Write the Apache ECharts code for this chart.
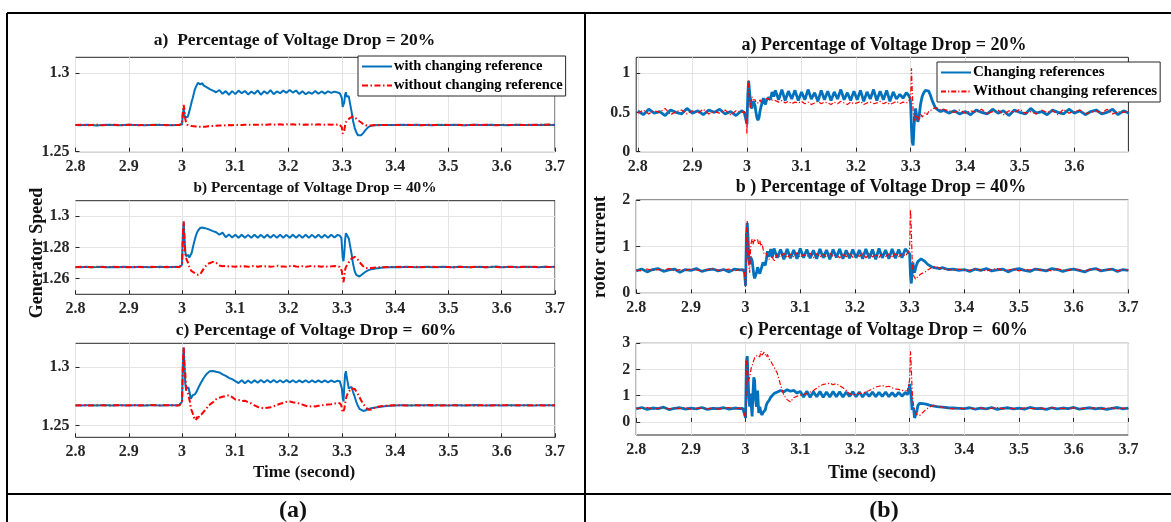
<!DOCTYPE html>
<html>
<head>
<meta charset="utf-8">
<script src="https://cdn.jsdelivr.net/npm/echarts@6/dist/echarts.min.js"></script>
<style>
  html, body { margin: 0; padding: 0; background: #fff; }
  #chart { width: 1171px; height: 522px; }
</style>
</head>
<body>
<div id="chart"></div>
<script>
// Sample instants (s): coarse in steady state, dense around the sag at 3.0 s and the recovery at 3.3 s
const time = [
  2.80, 2.81, 2.82, 2.83, 2.84, 2.85, 2.86, 2.87, 2.88, 2.89, 2.90, 2.91, 2.92, 2.93, 2.94, 2.95, 2.96, 2.97, 2.98, 2.99,
  2.995, 2.998, 3.000, 3.0015, 3.003, 3.0045, 3.006, 3.0075, 3.009, 3.0105, 3.012, 3.0135, 3.015, 3.0165, 3.018, 3.020, 3.022, 3.024, 3.026, 3.028, 3.030, 3.032, 3.034, 3.036, 3.038, 3.040, 3.043, 3.046, 3.049,
  3.052, 3.058, 3.064, 3.070, 3.076, 3.082, 3.088, 3.094, 3.100, 3.106, 3.112, 3.118, 3.124, 3.130, 3.136, 3.142, 3.148, 3.154, 3.160, 3.166, 3.172, 3.178, 3.184, 3.190, 3.196, 3.202, 3.208, 3.214, 3.220, 3.226, 3.232, 3.238, 3.244, 3.250, 3.256, 3.262, 3.268, 3.274, 3.280, 3.286, 3.292,
  3.296, 3.299, 3.300, 3.3015, 3.303, 3.3045, 3.306, 3.3075, 3.309, 3.311, 3.313, 3.315, 3.318, 3.321, 3.324, 3.327, 3.330, 3.333, 3.336, 3.340, 3.345, 3.350, 3.355, 3.360, 3.370, 3.380, 3.390,
  3.40, 3.41, 3.42, 3.43, 3.44, 3.45, 3.46, 3.47, 3.48, 3.49, 3.50, 3.51, 3.52, 3.53, 3.54, 3.55, 3.56, 3.57, 3.58, 3.59, 3.60, 3.61, 3.62, 3.63, 3.64, 3.65, 3.66, 3.67, 3.68, 3.69, 3.70
];

// ---- Generator speed (pu) ----
const speed20With = [
  1.267, 1.2668, 1.2671, 1.2669, 1.2667, 1.267, 1.2672, 1.2669, 1.2668, 1.267, 1.2671, 1.2669, 1.267, 1.2668, 1.267, 1.2671, 1.2669, 1.267, 1.2668, 1.267,
  1.267, 1.2671, 1.2675, 1.274, 1.277, 1.2735, 1.2715, 1.2712, 1.2718, 1.2722, 1.2735, 1.2755, 1.2775, 1.2795, 1.2818, 1.284, 1.2868, 1.2895, 1.2912, 1.2925, 1.2938, 1.2932, 1.2928, 1.2938, 1.2935, 1.2922, 1.2915, 1.291, 1.2902,
  1.2898, 1.2888, 1.2878, 1.2892, 1.2868, 1.2885, 1.2862, 1.2885, 1.2866, 1.2888, 1.2872, 1.2886, 1.2864, 1.2882, 1.2868, 1.289, 1.2862, 1.2884, 1.2869, 1.2891, 1.2866, 1.2883, 1.2872, 1.2888, 1.2874, 1.2892, 1.2876, 1.2889, 1.2866, 1.2884, 1.2865, 1.2879, 1.2868, 1.2886, 1.2868, 1.2883, 1.2869, 1.2884, 1.2874, 1.2882, 1.2876,
  1.2872, 1.2868, 1.284, 1.2785, 1.278, 1.2815, 1.2862, 1.2878, 1.285, 1.2838, 1.2852, 1.2812, 1.2758, 1.2695, 1.2652, 1.2624, 1.2605, 1.2598, 1.2604, 1.2618, 1.264, 1.2658, 1.2664, 1.2668, 1.2669, 1.267, 1.2669,
  1.267, 1.2671, 1.2669, 1.267, 1.2672, 1.2669, 1.267, 1.2668, 1.2671, 1.267, 1.2669, 1.2671, 1.267, 1.2668, 1.267, 1.2672, 1.2669, 1.267, 1.2671, 1.2669, 1.267, 1.2668, 1.267, 1.2671, 1.267, 1.2669, 1.2671, 1.267, 1.2672, 1.267, 1.2669
];
const speed20Without = [
  1.2669, 1.2671, 1.2668, 1.267, 1.2672, 1.2668, 1.267, 1.2671, 1.2669, 1.2668, 1.2671, 1.267, 1.2668, 1.2671, 1.2669, 1.267, 1.2672, 1.2668, 1.267, 1.2669,
  1.267, 1.2671, 1.268, 1.2755, 1.2798, 1.2765, 1.271, 1.2685, 1.2672, 1.2668, 1.2671, 1.2667, 1.2664, 1.2666, 1.2663, 1.2665, 1.2662, 1.2663, 1.266, 1.2661, 1.2659, 1.266, 1.2658, 1.2659, 1.2658, 1.266, 1.2659, 1.2661, 1.2662,
  1.2662, 1.2664, 1.2665, 1.2667, 1.2666, 1.2668, 1.2669, 1.2668, 1.267, 1.2671, 1.2669, 1.2671, 1.2672, 1.267, 1.2672, 1.2671, 1.2673, 1.2671, 1.2672, 1.2674, 1.2672, 1.2673, 1.2675, 1.2672, 1.2674, 1.2673, 1.2675, 1.2672, 1.2674, 1.2672, 1.2673, 1.2671, 1.2673, 1.2672, 1.2674, 1.2671, 1.2672, 1.2673, 1.2671, 1.2673, 1.2672,
  1.2671, 1.2668, 1.2655, 1.2615, 1.2608, 1.2632, 1.2668, 1.2688, 1.2695, 1.2701, 1.2706, 1.2714, 1.2722, 1.2724, 1.2718, 1.271, 1.2702, 1.2694, 1.2685, 1.2676, 1.2668, 1.2666, 1.2667, 1.2669, 1.2668, 1.267, 1.2669,
  1.2669, 1.267, 1.2671, 1.2669, 1.267, 1.2668, 1.2671, 1.267, 1.2669, 1.2672, 1.267, 1.2669, 1.2671, 1.2668, 1.267, 1.2671, 1.2669, 1.2672, 1.267, 1.2668, 1.2671, 1.267, 1.2669, 1.2672, 1.267, 1.2671, 1.2669, 1.2672, 1.2671, 1.2673, 1.2671
];
const speed40With = [
  1.2675, 1.2673, 1.2676, 1.2674, 1.2675, 1.2677, 1.2674, 1.2675, 1.2673, 1.2676, 1.2675, 1.2674, 1.2676, 1.2675, 1.2673, 1.2675, 1.2676, 1.2674, 1.2675, 1.2676,
  1.2675, 1.2676, 1.269, 1.288, 1.2962, 1.286, 1.2775, 1.2745, 1.2735, 1.2742, 1.2752, 1.2735, 1.2728, 1.2738, 1.2765, 1.2795, 1.2825, 1.2852, 1.2875, 1.2895, 1.2908, 1.2918, 1.2925, 1.2932, 1.2928, 1.2932, 1.2924, 1.293, 1.2918,
  1.2915, 1.2905, 1.2898, 1.2882, 1.2895, 1.2866, 1.2884, 1.2864, 1.2882, 1.2862, 1.2882, 1.2862, 1.2881, 1.2862, 1.2882, 1.2863, 1.2881, 1.2862, 1.2882, 1.2863, 1.2881, 1.2862, 1.2882, 1.2863, 1.2881, 1.2862, 1.2882, 1.2863, 1.2881, 1.2862, 1.2882, 1.2863, 1.2881, 1.2862, 1.2882, 1.2863, 1.2881, 1.2862, 1.2882, 1.2864, 1.2881,
  1.2876, 1.2862, 1.2815, 1.2735, 1.2712, 1.2765, 1.2845, 1.2892, 1.2895, 1.2882, 1.2858, 1.2818, 1.2762, 1.2695, 1.2648, 1.2625, 1.2617, 1.2614, 1.2621, 1.2633, 1.2646, 1.2655, 1.266, 1.2664, 1.2669, 1.2673, 1.2674,
  1.2675, 1.2674, 1.2676, 1.2675, 1.2673, 1.2675, 1.2676, 1.2674, 1.2675, 1.2677, 1.2675, 1.2674, 1.2676, 1.2675, 1.2673, 1.2675, 1.2676, 1.2674, 1.2675, 1.2678, 1.2674, 1.2675, 1.2676, 1.2674, 1.2675, 1.2677, 1.2675, 1.2674, 1.2676, 1.2675, 1.2676
];
const speed40Without = [
  1.2674, 1.2676, 1.2675, 1.2673, 1.2676, 1.2675, 1.2674, 1.2676, 1.2675, 1.2674, 1.2673, 1.2676, 1.2675, 1.2674, 1.2676, 1.2675, 1.2673, 1.2676, 1.2674, 1.2675,
  1.2675, 1.2676, 1.2692, 1.2885, 1.2968, 1.2855, 1.2768, 1.2735, 1.2718, 1.2712, 1.2698, 1.2678, 1.2662, 1.2655, 1.2648, 1.2644, 1.264, 1.2636, 1.263, 1.2628, 1.2625, 1.2623, 1.2628, 1.2638, 1.265, 1.2662, 1.2676, 1.2688, 1.2696,
  1.2702, 1.2708, 1.2702, 1.2685, 1.268, 1.2682, 1.2678, 1.2679, 1.2676, 1.2681, 1.2677, 1.268, 1.2676, 1.2679, 1.2682, 1.2677, 1.268, 1.2678, 1.2681, 1.2677, 1.2679, 1.2683, 1.2678, 1.2679, 1.2676, 1.268, 1.2683, 1.2678, 1.2677, 1.268, 1.2676, 1.2679, 1.2682, 1.2678, 1.268, 1.2677, 1.2681, 1.2676, 1.2679, 1.2682, 1.2677,
  1.2676, 1.2672, 1.2648, 1.2595, 1.2578, 1.2612, 1.2655, 1.2675, 1.2682, 1.2692, 1.2705, 1.2716, 1.2728, 1.2736, 1.274, 1.2735, 1.2722, 1.2708, 1.2694, 1.268, 1.2668, 1.2666, 1.2668, 1.267, 1.2673, 1.2674, 1.2675,
  1.2675, 1.2676, 1.2674, 1.2675, 1.2676, 1.2673, 1.2675, 1.2677, 1.2674, 1.2676, 1.2675, 1.2673, 1.2676, 1.2675, 1.2674, 1.2676, 1.2675, 1.2674, 1.2677, 1.2675, 1.2673, 1.2676, 1.2675, 1.2674, 1.2677, 1.2675, 1.2676, 1.2674, 1.2676, 1.2675, 1.2676
];
const speed60With = [
  1.2672, 1.2671, 1.2673, 1.2672, 1.267, 1.2673, 1.2672, 1.2671, 1.2673, 1.2672, 1.2671, 1.2673, 1.2672, 1.267, 1.2672, 1.2673, 1.2671, 1.2672, 1.2673, 1.2672,
  1.2672, 1.2674, 1.2705, 1.302, 1.3164, 1.302, 1.2862, 1.2815, 1.2822, 1.2808, 1.2825, 1.281, 1.2765, 1.2728, 1.2735, 1.2758, 1.2748, 1.2765, 1.2778, 1.2795, 1.2815, 1.2835, 1.2852, 1.2868, 1.2885, 1.29, 1.292, 1.2938, 1.2952,
  1.2962, 1.2965, 1.2958, 1.2952, 1.2935, 1.2922, 1.2905, 1.2895, 1.2878, 1.2862, 1.2885, 1.286, 1.2884, 1.2862, 1.2886, 1.2864, 1.2888, 1.2866, 1.2887, 1.2866, 1.2888, 1.2866, 1.2886, 1.2866, 1.2887, 1.2867, 1.2886, 1.2866, 1.2885, 1.2867, 1.2886, 1.2866, 1.2885, 1.2867, 1.2885, 1.2868, 1.2885, 1.2868, 1.2884, 1.2869, 1.2882,
  1.2878, 1.2865, 1.2815, 1.2735, 1.2705, 1.2832, 1.2935, 1.2962, 1.2915, 1.2865, 1.2815, 1.2818, 1.283, 1.2785, 1.2745, 1.2702, 1.2668, 1.2642, 1.2628, 1.2624, 1.263, 1.2642, 1.2648, 1.2652, 1.2658, 1.2664, 1.2669,
  1.2671, 1.2672, 1.2673, 1.2671, 1.2672, 1.2673, 1.2672, 1.267, 1.2673, 1.2672, 1.2671, 1.2672, 1.2673, 1.2671, 1.2672, 1.2674, 1.2672, 1.2671, 1.2673, 1.2672, 1.2671, 1.2673, 1.2672, 1.267, 1.2672, 1.2673, 1.2671, 1.2672, 1.2673, 1.2672, 1.2671
];
const speed60Without = [
  1.2671, 1.2673, 1.2672, 1.2671, 1.2673, 1.2672, 1.267, 1.2672, 1.2673, 1.2671, 1.2672, 1.2673, 1.2671, 1.2672, 1.2674, 1.2672, 1.2671, 1.2673, 1.2672, 1.2671,
  1.2672, 1.2674, 1.2708, 1.3025, 1.3164, 1.3, 1.2948, 1.2805, 1.2812, 1.2795, 1.2765, 1.2725, 1.2698, 1.2645, 1.2662, 1.2605, 1.2572, 1.256, 1.2545, 1.2575, 1.2552, 1.2582, 1.2565, 1.2592, 1.2598, 1.2615, 1.2628, 1.2645, 1.2668,
  1.2685, 1.2698, 1.2725, 1.2736, 1.2745, 1.2752, 1.2758, 1.2742, 1.2722, 1.2718, 1.2708, 1.2712, 1.2698, 1.2688, 1.2672, 1.2658, 1.2652, 1.2646, 1.2652, 1.2656, 1.2664, 1.2676, 1.2685, 1.2692, 1.2702, 1.2705, 1.2698, 1.2694, 1.2688, 1.2678, 1.2668, 1.2662, 1.2665, 1.2662, 1.2668, 1.2672, 1.2675, 1.2679, 1.2682, 1.2688, 1.2692,
  1.269, 1.2672, 1.2645, 1.2612, 1.2605, 1.264, 1.2685, 1.2725, 1.2752, 1.2772, 1.279, 1.2805, 1.2815, 1.2818, 1.2812, 1.2795, 1.2768, 1.2742, 1.2715, 1.2685, 1.2655, 1.2634, 1.2636, 1.2648, 1.2662, 1.2669, 1.2671,
  1.2672, 1.2673, 1.2671, 1.2672, 1.2673, 1.2671, 1.2672, 1.2674, 1.2672, 1.2671, 1.2673, 1.2672, 1.2671, 1.2673, 1.2672, 1.267, 1.2672, 1.2673, 1.2671, 1.2672, 1.2674, 1.2672, 1.2671, 1.2673, 1.2672, 1.2671, 1.2673, 1.2672, 1.2671, 1.2672, 1.2673
];

// ---- Rotor current (pu) ----
const current20With = [
  0.52, 0.47, 0.54, 0.49, 0.51, 0.46, 0.53, 0.5, 0.48, 0.55, 0.49, 0.52, 0.47, 0.53, 0.5, 0.54, 0.48, 0.51, 0.46, 0.52,
  0.5, 0.48, 0.35, 0.72, 0.9, 0.78, 0.66, 0.58, 0.55, 0.6, 0.64, 0.62, 0.58, 0.5, 0.44, 0.4, 0.43, 0.52, 0.58, 0.63, 0.68, 0.63, 0.6, 0.66, 0.64, 0.69, 0.66, 0.76, 0.7,
  0.78, 0.66, 0.79, 0.65, 0.77, 0.67, 0.78, 0.65, 0.76, 0.66, 0.79, 0.67, 0.75, 0.64, 0.78, 0.66, 0.77, 0.65, 0.76, 0.67, 0.79, 0.66, 0.75, 0.65, 0.77, 0.66, 0.78, 0.64, 0.76, 0.67, 0.79, 0.65, 0.77, 0.66, 0.78, 0.64, 0.76, 0.67, 0.73, 0.68, 0.75,
  0.72, 0.68, 0.6, 0.3, 0.12, 0.08, 0.3, 0.45, 0.55, 0.45, 0.38, 0.42, 0.6, 0.7, 0.75, 0.78, 0.79, 0.77, 0.72, 0.64, 0.56, 0.53, 0.51, 0.53, 0.49, 0.52, 0.48,
  0.51, 0.47, 0.53, 0.5, 0.48, 0.54, 0.49, 0.52, 0.46, 0.53, 0.5, 0.48, 0.55, 0.49, 0.51, 0.47, 0.53, 0.5, 0.48, 0.54, 0.49, 0.52, 0.47, 0.51, 0.53, 0.48, 0.5, 0.54, 0.47, 0.52, 0.49
];
const current20Without = [
  0.49, 0.53, 0.48, 0.52, 0.5, 0.55, 0.47, 0.51, 0.53, 0.48, 0.52, 0.49, 0.54, 0.48, 0.51, 0.49, 0.53, 0.47, 0.52, 0.5,
  0.51, 0.47, 0.23, 0.7, 0.91, 0.72, 0.55, 0.62, 0.7, 0.66, 0.64, 0.68, 0.66, 0.62, 0.6, 0.64, 0.62, 0.66, 0.63, 0.65, 0.66, 0.64, 0.67, 0.65, 0.68, 0.66, 0.65, 0.64, 0.66,
  0.64, 0.63, 0.65, 0.62, 0.64, 0.61, 0.63, 0.62, 0.64, 0.61, 0.63, 0.6, 0.62, 0.64, 0.61, 0.63, 0.62, 0.6, 0.63, 0.61, 0.64, 0.62, 0.6, 0.63, 0.61, 0.62, 0.64, 0.6, 0.62, 0.63, 0.61, 0.62, 0.64, 0.61, 0.63, 0.6, 0.62, 0.64, 0.61, 0.63, 0.62,
  0.63, 0.62, 0.7, 1.06, 0.75, 0.52, 0.38, 0.44, 0.49, 0.43, 0.4, 0.45, 0.49, 0.44, 0.47, 0.5, 0.47, 0.51, 0.49, 0.54, 0.56, 0.55, 0.53, 0.54, 0.52, 0.5, 0.53,
  0.49, 0.52, 0.5, 0.54, 0.48, 0.51, 0.53, 0.47, 0.52, 0.5, 0.54, 0.49, 0.51, 0.48, 0.53, 0.5, 0.52, 0.47, 0.54, 0.49, 0.51, 0.53, 0.48, 0.5, 0.52, 0.49, 0.54, 0.48, 0.51, 0.5, 0.52
];
const current40With = [
  0.48, 0.52, 0.46, 0.51, 0.53, 0.47, 0.5, 0.52, 0.45, 0.51, 0.49, 0.53, 0.47, 0.5, 0.52, 0.48, 0.51, 0.46, 0.52, 0.5,
  0.51, 0.45, 0.16, 1.25, 1.51, 1.2, 0.75, 0.62, 0.78, 0.82, 0.7, 0.55, 0.4, 0.32, 0.36, 0.44, 0.56, 0.6, 0.42, 0.5, 0.58, 0.66, 0.62, 0.6, 0.73, 0.9, 0.78, 0.95, 0.78,
  0.96, 0.76, 0.94, 0.73, 0.95, 0.75, 0.93, 0.74, 0.96, 0.76, 0.94, 0.75, 0.92, 0.74, 0.95, 0.76, 0.93, 0.73, 0.94, 0.77, 0.95, 0.74, 0.92, 0.75, 0.94, 0.76, 0.93, 0.74, 0.95, 0.75, 0.94, 0.73, 0.96, 0.76, 0.93, 0.74, 0.95, 0.75, 0.94, 0.76, 0.95,
  0.9, 0.92, 0.85, 0.4, 0.21, 0.45, 0.66, 0.5, 0.44, 0.55, 0.62, 0.68, 0.7, 0.74, 0.72, 0.69, 0.65, 0.62, 0.6, 0.57, 0.55, 0.54, 0.53, 0.55, 0.51, 0.52, 0.49,
  0.51, 0.47, 0.52, 0.49, 0.53, 0.48, 0.5, 0.52, 0.46, 0.51, 0.53, 0.49, 0.47, 0.52, 0.5, 0.48, 0.53, 0.51, 0.47, 0.5, 0.52, 0.49, 0.46, 0.51, 0.53, 0.48, 0.5, 0.52, 0.47, 0.51, 0.49
];
const current40Without = [
  0.5, 0.48, 0.52, 0.49, 0.51, 0.5, 0.53, 0.48, 0.51, 0.49, 0.52, 0.5, 0.48, 0.51, 0.53, 0.49, 0.5, 0.52, 0.48, 0.51,
  0.5, 0.45, 0.12, 1.3, 1.55, 1.1, 0.6, 0.44, 0.94, 1.1, 1.16, 1.05, 1.08, 1.17, 1.12, 1.09, 1.15, 1.04, 1.13, 1.01, 1.06, 0.95, 0.84, 0.8, 0.86, 0.78, 0.73, 0.69, 0.78,
  0.68, 0.84, 0.78, 0.86, 0.76, 0.84, 0.78, 0.87, 0.77, 0.83, 0.79, 0.86, 0.76, 0.85, 0.78, 0.84, 0.77, 0.86, 0.79, 0.83, 0.76, 0.85, 0.78, 0.87, 0.77, 0.84, 0.79, 0.86, 0.76, 0.85, 0.78, 0.83, 0.77, 0.86, 0.79, 0.84, 0.76, 0.87, 0.78, 0.85, 0.8,
  0.86, 0.9, 0.96, 1.8, 1.37, 0.75, 0.5, 0.37, 0.33, 0.3, 0.31, 0.36, 0.4, 0.42, 0.44, 0.45, 0.48, 0.5, 0.52, 0.55, 0.57, 0.56, 0.54, 0.53, 0.51, 0.5, 0.52,
  0.5, 0.49, 0.52, 0.5, 0.48, 0.51, 0.53, 0.49, 0.5, 0.52, 0.48, 0.51, 0.5, 0.53, 0.49, 0.51, 0.48, 0.52, 0.5, 0.49, 0.53, 0.5, 0.48, 0.51, 0.52, 0.49, 0.5, 0.53, 0.48, 0.51, 0.5
];
const current60With = [
  0.5, 0.55, 0.48, 0.53, 0.51, 0.56, 0.47, 0.52, 0.54, 0.49, 0.53, 0.5, 0.55, 0.48, 0.52, 0.51, 0.54, 0.49, 0.53, 0.51,
  0.52, 0.48, 0.15, 2.3, 2.51, 1.7, 0.9, 0.58, 1.08, 0.6, 0.21, 1.1, 1.7, 1.58, 0.9, 0.58, 1.2, 0.34, 0.58, 0.35, 0.27, 0.36, 0.42, 0.46, 0.65, 0.74, 0.82, 0.94, 1.0,
  1.08, 1.14, 1.2, 1.15, 1.23, 1.17, 1.2, 1.1, 1.16, 0.95, 1.17, 0.94, 1.15, 0.96, 1.16, 0.94, 1.14, 0.95, 1.16, 0.96, 1.15, 0.95, 1.14, 0.97, 1.15, 0.96, 1.14, 0.95, 1.13, 0.97, 1.14, 0.96, 1.13, 0.97, 1.14, 0.96, 1.12, 0.97, 1.13, 0.98, 1.12,
  1.05, 1.2, 1.45, 1.4, 0.95, 0.46, 0.55, 0.45, 0.15, 0.22, 0.4, 0.62, 0.71, 0.68, 0.7, 0.67, 0.68, 0.65, 0.64, 0.62, 0.6, 0.58, 0.57, 0.56, 0.54, 0.53, 0.52,
  0.51, 0.54, 0.49, 0.53, 0.5, 0.55, 0.48, 0.52, 0.54, 0.5, 0.53, 0.49, 0.55, 0.51, 0.52, 0.48, 0.54, 0.5, 0.53, 0.51, 0.55, 0.49, 0.52, 0.54, 0.5, 0.53, 0.48, 0.52, 0.55, 0.5, 0.53
];
const current60Without = [
  0.53, 0.5, 0.55, 0.49, 0.52, 0.54, 0.5, 0.53, 0.51, 0.55, 0.48, 0.52, 0.53, 0.5, 0.54, 0.49, 0.52, 0.55, 0.5, 0.53,
  0.52, 0.45, 0.11, 2.2, 2.45, 1.55, 1.52, 1.7, 1.9, 2.07, 2.15, 2.26, 2.35, 2.45, 2.4, 2.51, 2.55, 2.57, 2.48, 2.7, 2.55, 2.52, 2.66, 2.58, 2.48, 2.57, 2.4, 2.32, 2.2,
  2.1, 1.86, 1.4, 1.02, 0.85, 0.76, 0.92, 0.98, 1.02, 1.05, 1.08, 1.14, 1.2, 1.28, 1.38, 1.43, 1.45, 1.48, 1.42, 1.46, 1.38, 1.3, 1.2, 1.08, 1.02, 1.06, 1.1, 1.08, 1.15, 1.2, 1.26, 1.33, 1.36, 1.39, 1.34, 1.36, 1.3, 1.26, 1.24, 1.2, 1.18,
  1.2, 1.25, 1.6, 2.7, 2.07, 1.2, 0.8, 0.6, 0.45, 0.38, 0.28, 0.21, 0.24, 0.3, 0.36, 0.42, 0.48, 0.52, 0.56, 0.6, 0.63, 0.6, 0.58, 0.56, 0.52, 0.5, 0.52,
  0.51, 0.53, 0.5, 0.54, 0.49, 0.52, 0.55, 0.5, 0.53, 0.51, 0.48, 0.54, 0.52, 0.5, 0.53, 0.49, 0.55, 0.51, 0.52, 0.5, 0.54, 0.49, 0.53, 0.51, 0.55, 0.5, 0.52, 0.54, 0.49, 0.53, 0.51
];

// Axis tick values
const timeTicks = [2.8, 2.9, 3.0, 3.1, 3.2, 3.3, 3.4, 3.5, 3.6, 3.7];
const timeTicksShort = [2.8, 2.9, 3.0, 3.1, 3.2, 3.3, 3.4, 3.5, 3.6];
const speedTicksA = [1.25, 1.3];
const speedTicksB = [1.26, 1.28, 1.3];
const speedTicksC = [1.25, 1.3];
const currentTicksA = [0, 0.5, 1];
const currentTicksB = [0, 1, 2];
const currentTicksC = [0, 1, 2, 3];

// Legend / title text
const legendLeft = ['with changing reference', 'without changing reference'];
const legendRight = ['Changing references', 'Without changing references'];
const titlesLeft = ['a)  Percentage of Voltage Drop = 20%', 'b) Percentage of Voltage Drop = 40%', 'c) Percentage of Voltage Drop =  60%'];
const titlesRight = ['a) Percentage of Voltage Drop = 20%', 'b ) Percentage of Voltage Drop = 40%', 'c) Percentage of Voltage Drop =  60%'];

const SERIF = '"Liberation Serif", "Times New Roman", serif';
const BLUE = '#0072BD';
const RED = '#FF0000';
const INK = '#262626';

const pairs = vals => time.map((t, i) => [t, vals[i]]);

// Plot boxes (pixels)
const boxes = [
  { left: 75.5, top: 57.3, width: 479.5, height: 94.4 },
  { left: 75.5, top: 200.7, width: 479.5, height: 93.6 },
  { left: 75.5, top: 343.3, width: 479.5, height: 94 },
  { left: 636.2, top: 57.3, width: 492.2, height: 94.4 },
  { left: 636.2, top: 200, width: 492.2, height: 93.3 },
  { left: 636.2, top: 343.3, width: 492.2, height: 91.7 }
];

const yRanges = [
  { min: 1.25, max: 1.31, ticks: speedTicksA },
  { min: 1.25, max: 1.31, ticks: speedTicksB },
  { min: 1.24, max: 1.32, ticks: speedTicksC },
  { min: 0, max: 1.2, ticks: currentTicksA },
  { min: 0, max: 2, ticks: currentTicksB },
  { min: -0.5, max: 3, ticks: currentTicksC }
];
const xRanges = [
  { min: 2.8, max: 3.7, ticks: timeTicks },
  { min: 2.8, max: 3.7, ticks: timeTicks },
  { min: 2.8, max: 3.7, ticks: timeTicks },
  { min: 2.797, max: 3.699, ticks: timeTicksShort },
  { min: 2.8, max: 3.7, ticks: timeTicks },
  { min: 2.8, max: 3.7, ticks: timeTicks }
];

const fmt = v => String(parseFloat(Number(v).toFixed(3)));

const tickLabel = { color: INK, fontFamily: SERIF, fontWeight: 'bold', fontSize: 16 };

const xAxes = xRanges.map((r, i) => ({
  type: 'value', gridIndex: i, min: r.min, max: r.max,
  axisLine: { show: false },
  axisTick: { show: true, inside: true, length: 4, customValues: r.ticks, lineStyle: { color: INK } },
  axisLabel: Object.assign({ customValues: r.ticks, margin: 7, formatter: fmt }, tickLabel),
  splitLine: { show: true, lineStyle: { color: '#e4e4e4', width: 1 } }
}));
const yAxes = yRanges.map((r, i) => ({
  type: 'value', gridIndex: i, min: r.min, max: r.max,
  axisLine: { show: false },
  axisTick: { show: true, inside: true, length: 4, customValues: r.ticks, lineStyle: { color: INK } },
  axisLabel: Object.assign({ customValues: r.ticks, margin: 6, formatter: fmt }, tickLabel),
  splitLine: { show: true, lineStyle: { color: '#e4e4e4', width: 1 } }
}));

function line(name, vals, idx, color, width, dash) {
  return {
    type: 'line', name, xAxisIndex: idx, yAxisIndex: idx,
    data: pairs(vals), symbol: 'none', showSymbol: false,
    lineStyle: { color, width, type: dash || 'solid' },
    itemStyle: { color },
    animation: false, silent: true
  };
}

const DASHDOT_L = [6, 2.5, 1.5, 2.5];
const DASHDOT_R = [5, 2, 1.2, 2];

const series = [
  line(legendLeft[0], speed20With, 0, BLUE, 2),
  line(legendLeft[1], speed20Without, 0, RED, 2, DASHDOT_L),
  line(legendLeft[0], speed40With, 1, BLUE, 2),
  line(legendLeft[1], speed40Without, 1, RED, 2, DASHDOT_L),
  line(legendLeft[0], speed60With, 2, BLUE, 2),
  line(legendLeft[1], speed60Without, 2, RED, 2, DASHDOT_L),
  line(legendRight[0], current20With, 3, BLUE, 2.8),
  line(legendRight[1], current20Without, 3, RED, 1.2, DASHDOT_R),
  line(legendRight[0], current40With, 4, BLUE, 2.8),
  line(legendRight[1], current40Without, 4, RED, 1.2, DASHDOT_R),
  line(legendRight[0], current60With, 5, BLUE, 2.8),
  line(legendRight[1], current60Without, 5, RED, 1.2, DASHDOT_R)
];

function text(str, x, y, size, rot) {
  return {
    type: 'text', x, y, rotation: rot || 0, z: 10,
    style: { text: str, fill: '#111', fontFamily: SERIF, fontWeight: 'bold', fontSize: size, align: 'center', verticalAlign: 'middle' }
  };
}
function rule(x1, y1, x2, y2) {
  return { type: 'line', z: 10, shape: { x1, y1, x2, y2 }, style: { stroke: '#000', lineWidth: 2 } };
}

const graphics = [
  // panel frame
  rule(7, 13, 1171, 13),
  rule(7, 13, 7, 522),
  rule(585, 13, 585, 522),
  rule(7, 494, 1171, 494),
  // subplot titles
  text(titlesLeft[0], 294.5, 40, 17.5),
  text(titlesLeft[1], 315, 188, 15.3),
  text(titlesLeft[2], 316, 330, 17.5),
  text(titlesRight[0], 884, 45, 18),
  text(titlesRight[1], 881, 187, 18),
  text(titlesRight[2], 883.5, 330, 18),
  // axis names
  text('Generator Speed', 37.5, 253, 18, Math.PI / 2),
  text('rotor current', 600, 247, 18, Math.PI / 2),
  text('Time (second)', 304, 473, 17),
  text('Time (second)', 882, 473, 18),
  // panel captions
  text('(a)', 293, 511, 24),
  text('(b)', 884, 511, 24)
];

// Line-only legend keys: the marker of each key is made fully transparent
const legendCommon = {
  orient: 'vertical', selectedMode: false, itemWidth: 30, itemHeight: 12, itemGap: 4,
  backgroundColor: '#fff', borderColor: INK, borderWidth: 1, borderRadius: 0,
  itemStyle: { opacity: 0 },
  z: 20
};
const legendText = size => ({ color: '#000', fontFamily: SERIF, fontWeight: 'bold', fontSize: size, padding: [0, 0, 0, -3] });

const option = {
  animation: false,
  backgroundColor: '#fff',
  grid: boxes.map(b => Object.assign({ show: true, borderColor: INK, borderWidth: 1, backgroundColor: 'transparent', containLabel: false }, b)),
  xAxis: xAxes,
  yAxis: yAxes,
  legend: [
    Object.assign({ data: legendLeft, left: 358, top: 56, padding: [3, 3, 3, 3], textStyle: legendText(14.5) }, legendCommon),
    Object.assign({ data: legendRight, left: 937, top: 62, padding: [3, 3, 3, 3], textStyle: legendText(15) }, legendCommon)
  ],
  series,
  graphic: graphics
};

const chart = echarts.init(document.getElementById('chart'), null, { renderer: 'canvas' });
chart.setOption(option);
</script>
</body>
</html>
